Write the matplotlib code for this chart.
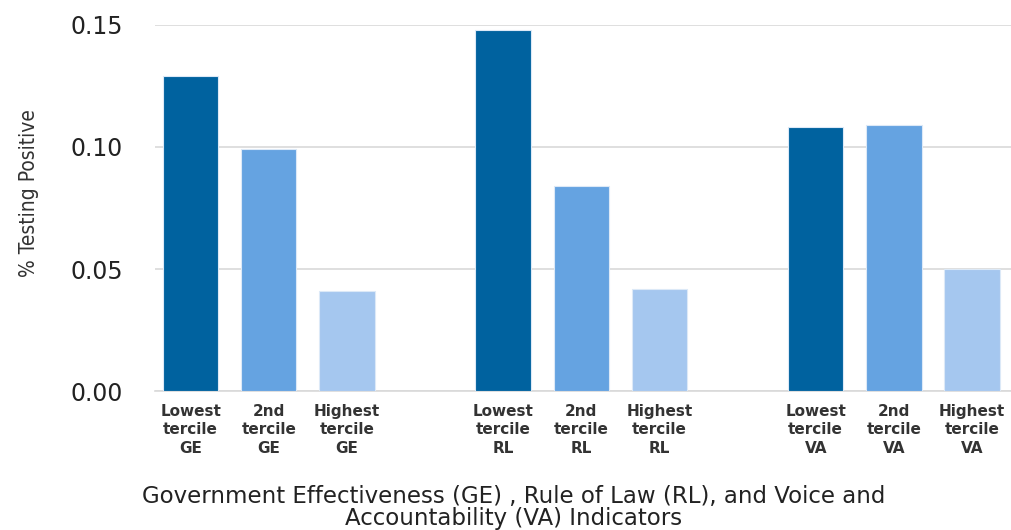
import numpy as np
import matplotlib
matplotlib.use("Agg")
import matplotlib.pyplot as plt

# values
labels = ["Lowest\ntercile\nGE", "2nd\ntercile\nGE", "Highest\ntercile\nGE",
          "Lowest\ntercile\nRL", "2nd\ntercile\nRL", "Highest\ntercile\nRL",
          "Lowest\ntercile\nVA", "2nd\ntercile\nVA", "Highest\ntercile\nVA"]
values = [0.129, 0.099, 0.041,
          0.148, 0.084, 0.042,
          0.108, 0.109, 0.050]
positions = [0, 1, 2, 4, 5, 6, 8, 9, 10]
colors = ["#00629F", "#65A3E1", "#A5C7EF"] * 3
yticks = [0.00, 0.05, 0.10, 0.15]

fig = plt.figure(figsize=(10.11, 5.30), dpi=100)
ax = fig.add_axes([0.153, 0.262, 0.847, 0.691])

ax.bar(positions, values, width=0.71, color=colors, edgecolor="#DCE9F7",
       linewidth=0.8, zorder=3)

ax.set_xlim(-0.46, 10.5)
ax.set_ylim(0, 0.15)
ax.set_yticks(yticks)
ax.set_yticklabels(["%.2f" % v for v in yticks], fontsize=17, color="#222222")
ax.set_xticks(positions)
ax.set_xticklabels(labels, fontsize=11, fontweight="bold", color="#333333",
                   linespacing=1.3)
ax.tick_params(axis="y", length=0, pad=23)
ax.tick_params(axis="x", length=0, pad=9)

ax.yaxis.grid(True, color="#D9D9D9", linewidth=1.2, zorder=0)
for s in ["top", "right", "left"]:
    ax.spines[s].set_visible(False)
ax.spines["bottom"].set_color("#D9D9D9")
ax.spines["bottom"].set_linewidth(1.2)

ax.set_ylabel("% Testing Positive", fontsize=15, color="#333333",
              fontstretch="condensed")
ax.yaxis.set_label_coords(-0.135, 0.54)

fig.text(0.508, 0.0,
         "Government Effectiveness (GE) , Rule of Law (RL), and Voice and\n"
         "Accountability (VA) Indicators",
         ha="center", va="bottom", fontsize=16.5, color="#222222",
         linespacing=0.95)

fig.savefig("out.png", dpi=100)
